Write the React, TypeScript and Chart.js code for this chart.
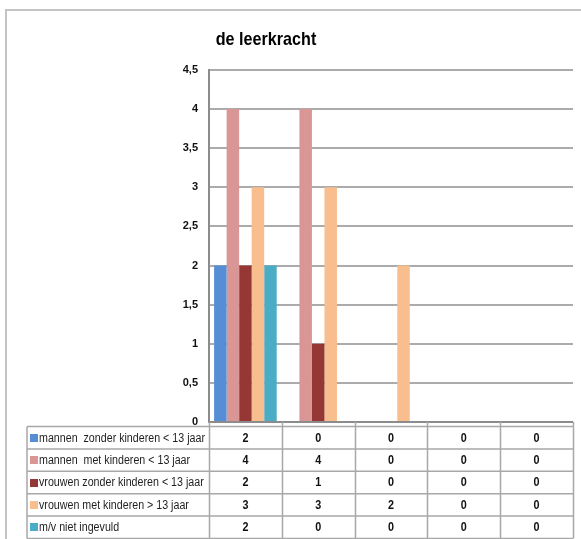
import React, { useEffect, useRef } from 'react';
import { Chart, registerables } from 'chart.js';

Chart.register(...registerables);

const chartTitle = 'de leerkracht';
const categories = ['', '', '', '', ''];
const seriesNames = [
  'mannen  zonder kinderen < 13 jaar',
  'mannen  met kinderen < 13 jaar',
  'vrouwen zonder kinderen < 13 jaar',
  'vrouwen met kinderen > 13 jaar',
  'm/v niet ingevuld',
];
const mannenZonder = [2, 0, 0, 0, 0];
const mannenMet = [4, 4, 0, 0, 0];
const vrouwenZonder = [2, 1, 0, 0, 0];
const vrouwenMet = [3, 3, 2, 0, 0];
const nietIngevuld = [2, 0, 0, 0, 0];
const yMin = 0;
const yMax = 4.5;
const yStep = 0.5;

const seriesValues = [mannenZonder, mannenMet, vrouwenZonder, vrouwenMet, nietIngevuld];
const seriesColors = ['#558ED5', '#D99694', '#953735', '#F8BE8E', '#4BACC6'];

const FONT = '"Liberation Sans", Arial, sans-serif';

function fillCondensed(ctx: any, text: string, x: number, y: number, sx: number) {
  ctx.save();
  ctx.translate(x, y);
  ctx.scale(sx, 1);
  ctx.fillText(text, 0, 0);
  ctx.restore();
}

const decorPlugin = {
  id: 'decor',
  beforeDraw(chart: any) {
    const ctx = chart.ctx;
    ctx.save();
    ctx.strokeStyle = '#c4c4c4';
    ctx.lineWidth = 2;
    ctx.beginPath();
    ctx.moveTo(6, 539);
    ctx.lineTo(6, 10);
    ctx.lineTo(581, 10);
    ctx.stroke();
    // title
    ctx.fillStyle = '#000';
    ctx.font = `bold 19px ${FONT}`;
    ctx.textAlign = 'center';
    ctx.textBaseline = 'alphabetic';
    fillCondensed(ctx, chartTitle, 266, 45, 0.85);
    ctx.restore();
  },
  afterDraw(chart: any) {
    const ctx = chart.ctx;
    const area = chart.chartArea;
    const n = categories.length;
    const colW = (area.right - area.left) / n;
    const tableTop = 426.5;
    const rowH = 22.4;
    const tableLeft = 27;
    const rows = seriesNames.length;
    const bottom = tableTop + rowH * rows;
    ctx.save();
    ctx.strokeStyle = '#a8a8a8';
    ctx.lineWidth = 1.5;
    // tick marks from axis to table
    ctx.beginPath();
    for (let i = 0; i <= n; i++) {
      const xx = Math.round(area.left + colW * i) + 0.5;
      ctx.moveTo(xx, area.bottom);
      ctx.lineTo(xx, tableTop);
    }
    ctx.stroke();
    // horizontal row lines
    ctx.beginPath();
    for (let r = 0; r <= rows; r++) {
      const yy = tableTop + rowH * r;
      ctx.moveTo(tableLeft, yy);
      ctx.lineTo(area.right, yy);
    }
    // vertical lines
    ctx.moveTo(tableLeft, tableTop);
    ctx.lineTo(tableLeft, bottom);
    for (let i = 0; i <= n; i++) {
      const xx = Math.round(area.left + colW * i) + 0.5;
      ctx.moveTo(xx, tableTop);
      ctx.lineTo(xx, bottom);
    }
    ctx.stroke();
    // contents
    for (let r = 0; r < rows; r++) {
      const cy = tableTop + rowH * r + rowH / 2;
      ctx.fillStyle = seriesColors[r];
      ctx.fillRect(30, Math.round(cy - 4), 8, 8);
      ctx.fillStyle = '#1e1e1e';
      ctx.font = `12px ${FONT}`;
      ctx.textAlign = 'left';
      ctx.textBaseline = 'middle';
      fillCondensed(ctx, seriesNames[r], 39, cy + 0.5, 0.89);
      ctx.font = `bold 12px ${FONT}`;
      ctx.textAlign = 'center';
      ctx.fillStyle = '#111';
      for (let i = 0; i < n; i++) {
        const cx = area.left + colW * (i + 0.5);
        fillCondensed(ctx, String(seriesValues[r][i]), cx, cy + 0.5, 0.9);
      }
    }
    ctx.restore();
  },
};

export default function App() {
  const canvasRef = useRef<HTMLCanvasElement | null>(null);

  useEffect(() => {
    const canvas = canvasRef.current;
    if (!canvas) return;
    const chart = new Chart(canvas, {
      type: 'bar',
      data: {
        labels: categories,
        datasets: seriesNames.map((name, i) => ({
          label: name,
          data: seriesValues[i],
          backgroundColor: seriesColors[i],
          borderWidth: 0,
          categoryPercentage: 0.86,
          barPercentage: 1.0,
        })),
      },
      options: {
        responsive: false,
        animation: false,
        devicePixelRatio: 1,
        layout: { padding: { left: 0, right: 8, top: 70, bottom: 117 } },
        plugins: {
          legend: { display: false },
          title: { display: false },
          tooltip: { enabled: false },
        },
        scales: {
          x: {
            display: false,
            grid: { display: false },
          },
          y: {
            min: yMin,
            max: yMax,
            afterFit(scale: any) {
              scale.width = 209;
            },
            border: { display: true, color: '#8c8c8c', width: 2 },
            grid: {
              drawTicks: false,
              lineWidth: 2,
              color: (c: any) => (c.tick && c.tick.value === 0 ? '#8c8c8c' : '#ababab'),
            },
            ticks: {
              stepSize: yStep,
              padding: 11,
              color: '#111',
              font: { family: FONT, size: 11, weight: 'bold' },
              callback: (v: any) => String(v).replace('.', ','),
            },
          },
        },
      },
      plugins: [decorPlugin],
    });
    return () => chart.destroy();
  }, []);

  return (
    <div style={{ position: 'fixed', left: 0, top: 0, width: 581, height: 539, background: '#fff' }}>
      <canvas ref={canvasRef} width={581} height={539} style={{ display: 'block', width: 581, height: 539 }} />
    </div>
  );
}
